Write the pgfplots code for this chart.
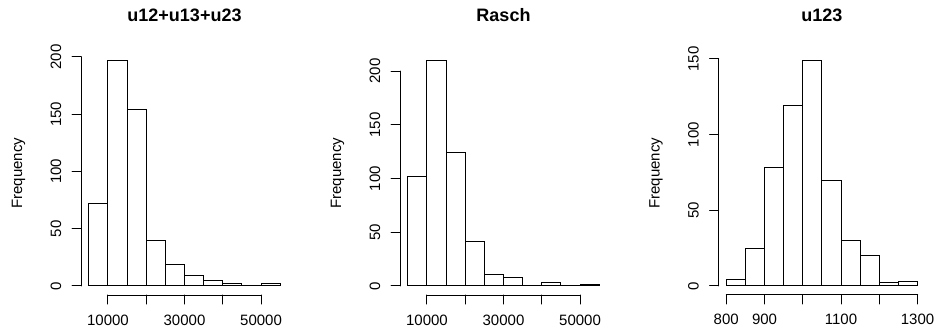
\documentclass[border=0pt]{standalone}
\usepackage{fontspec}
\setmainfont{Liberation Sans}
\usepackage{pgfplots}
\pgfplotsset{compat=1.18}
\pgfplotsset{
  rhist/.style={
    scale only axis, width=206.6pt, height=243.6pt,
    anchor=south west,
    axis x line*=bottom, axis y line*=left,
    axis line style={draw=none},
    tick align=outside, major tick length=9pt,
    tick style={black, line width=1pt, line cap=round},
    /pgf/number format/assume math mode=true,
    /pgf/number format/1000 sep={},
    tick label style={font=\fontsize{15}{18}\selectfont},
    every axis title/.style={at={(axis description cs:0.5,1)}, anchor=base, yshift=29.5pt, font=\fontsize{18}{21}\selectfont\bfseries},
    ylabel={Frequency},
    every axis y label/.style={at={(axis description cs:0,0.5)}, xshift=-59pt, rotate=90, anchor=base, font=\fontsize{15}{18}\selectfont},
    xticklabel style={anchor=base, yshift=-21pt, inner sep=0pt},
    yticklabel style={xshift=-11pt, rotate=90, anchor=base},
    clip=false,
  },
  rbar/.style={ybar interval, draw=black, fill=white, line width=1pt},
}
\begin{document}
\begin{tikzpicture}
\fill[white] (0,0) rectangle (936pt,334pt);
\useasboundingbox (0,0) rectangle (936pt,334pt);
% Panel 1
\begin{axis}[rhist, at={(81.2pt,39pt)},
  title={u12+u13+u23},
  xmin=3000, xmax=57000, ymin=-7.88, ymax=204.88,
  xtick={10000,20000,30000,40000,50000},
  xticklabels={10000,,30000,,50000},
  ytick={0,50,100,150,200}]
\addplot[rbar] coordinates {
  (5000,72) (10000,197) (15000,154) (20000,40) (25000,19)
  (30000,9) (35000,5) (40000,2) (45000,0) (50000,2) (55000,2)};
\draw[line width=1pt, line cap=round] (axis cs:10000,-7.88) -- (axis cs:50000,-7.88);
\draw[line width=1pt, line cap=round] (axis cs:3000,0) -- (axis cs:3000,200);
\end{axis}
% Panel 2
\begin{axis}[rhist, at={(400.2pt,39pt)},
  title={Rasch},
  xmin=3000, xmax=57000, ymin=-8.4, ymax=218.4,
  xtick={10000,20000,30000,40000,50000},
  xticklabels={10000,,30000,,50000},
  ytick={0,50,100,150,200}]
\addplot[rbar] coordinates {
  (5000,102) (10000,210) (15000,124) (20000,41) (25000,11)
  (30000,8) (35000,0) (40000,3) (45000,0) (50000,1) (55000,1)};
\draw[line width=1pt, line cap=round] (axis cs:10000,-8.4) -- (axis cs:50000,-8.4);
\draw[line width=1pt, line cap=round] (axis cs:3000,0) -- (axis cs:3000,200);
\end{axis}
% Panel 3
\begin{axis}[rhist, at={(718.6pt,39pt)},
  title={u123},
  xmin=780, xmax=1320, ymin=-5.96, ymax=154.96,
  xtick={800,900,1000,1100,1200,1300},
  xticklabels={800,900,,1100,,1300},
  ytick={0,50,100,150}]
\addplot[rbar] coordinates {
  (800,4) (850,25) (900,78) (950,119) (1000,149)
  (1050,70) (1100,30) (1150,20) (1200,2) (1250,3) (1300,3)};
\draw[line width=1pt, line cap=round] (axis cs:800,-5.96) -- (axis cs:1300,-5.96);
\draw[line width=1pt, line cap=round] (axis cs:780,0) -- (axis cs:780,150);
\end{axis}
\end{tikzpicture}
\end{document}
